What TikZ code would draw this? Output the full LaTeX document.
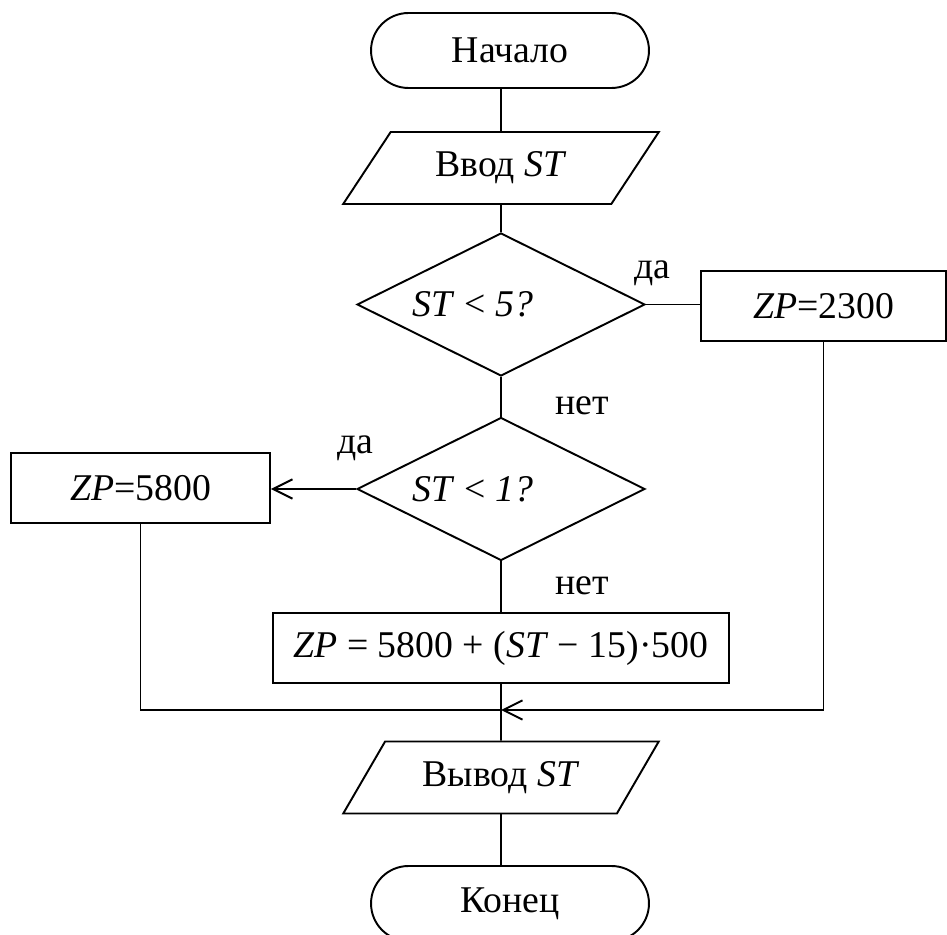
\documentclass[tikz,border=0pt]{standalone}
\usepackage{fontspec}
\setmainfont{Liberation Serif}
\usetikzlibrary{arrows.meta, shapes.geometric, shapes.misc}

\begin{document}
\begin{tikzpicture}[x=0.02cm, y=-0.02cm,
    every node/.style={font=\fontsize{21.5}{26}\selectfont},
    line/.style={line width=1.1pt},
    terminal/.style={draw, line width=1.1pt, rounded rectangle, minimum width=5.56cm, minimum height=1.5cm, inner sep=0pt},
    io/.style={draw, line width=1.1pt, trapezium, trapezium left angle=48.8, trapezium right angle=131.2,
        trapezium stretches=true, minimum width=6.32cm, minimum height=1.44cm, inner sep=0pt},
    decision/.style={draw, line width=1.1pt, diamond, aspect=2, minimum width=5.76cm, minimum height=2.86cm, inner sep=0pt},
    process/.style={draw, line width=1.1pt, rectangle, minimum height=1.4cm, inner sep=0pt},
    arrowtip/.style={-{Straight Barb[length=11pt,width=11pt]}}
]

    % --- 0. PAGE ---
    \useasboundingbox (0,0) rectangle (947,935);

    % --- 1. MAIN COLUMN ---
    \node[terminal] (start) at (510, 50.5) {Начало};
    \node[io] (input) at (501, 168) {Ввод \textit{ST}};
    \node[decision, label={[xshift=-0.56cm]center:\textit{ST} < \textit{5?}}] (cond1) at (501, 304.5) {};
    \node[decision, label={[xshift=-0.56cm]center:\textit{ST} < \textit{1?}}] (cond2) at (501, 489) {};
    \node[process, minimum width=9.14cm] (calc) at (501, 648) {\textit{ZP} = 5800 + (\textit{ST} − 15)·500};
    \coordinate (join) at (501, 710);
    \node[io] (output) at (501, 777.5) {Вывод \textit{ST}};
    \node[terminal] (stop) at (510, 903.5) {Конец};

    % --- 2. SIDE BRANCHES ---
    \node[process, minimum width=4.9cm] (zpA) at (823.5, 306) {\textit{ZP}=2300};
    \node[process, minimum width=5.18cm] (zpB) at (140.5, 488) {\textit{ZP}=5800};

    % --- 3. CONNECTORS ---
    \draw[line] (input.north |- start.south) -- (input.north);
    \draw[line] (input.south) -- (cond1.north);
    \draw[line] (cond1.east) -- (cond1.east -| zpA.west);
    \draw[line] (cond1.south) -- (cond2.north);
    \draw[line, arrowtip] (cond2.west) -- (cond2.west -| zpB.east);
    \draw[line] (cond2.south) -- (calc.north);
    \draw[line] (calc.south) -- (join) -- (output.north);
    \draw[line] (output.south) -- (output.south |- stop.north);

    % merging the branches
    \draw[line] (zpB.south) |- (join);
    \draw[line, arrowtip] (zpA.south) |- (join);

    % --- 4. BRANCH LABELS ---
    \node (yes1) at (652, 273) {да};
    \node (no1) at (582, 406) {нет};
    \node (yes2) at (355, 448) {да};
    \node (no2) at (582, 586) {нет};

\end{tikzpicture}
\end{document}
